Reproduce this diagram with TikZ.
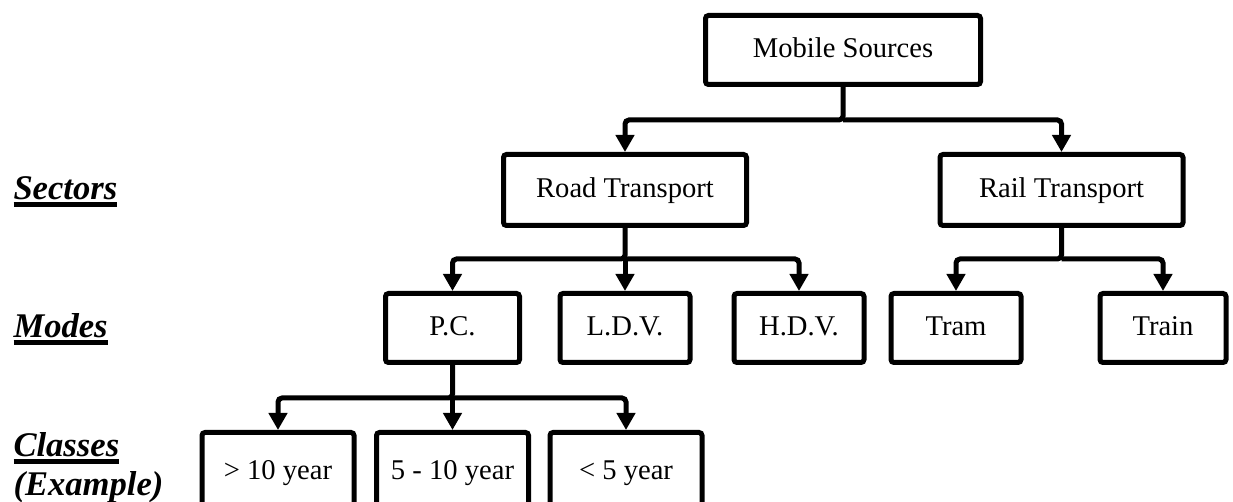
\documentclass[tikz,border=0pt]{standalone}
\usepackage{fontspec}
\setmainfont{Liberation Serif}
\usetikzlibrary{arrows.meta}
\newcommand{\ulbl}[1]{\setbox0\hbox{#1}\rlap{\usebox0}\rule[-3.5pt]{\wd0}{2.3pt}}
\begin{document}
\begin{tikzpicture}[x=0.5pt, y=-0.5pt, line width=2.5pt,
	box/.style = {draw, rectangle, rounded corners=1.5pt, inner sep=0pt, minimum height=34.5pt,
		font=\fontsize{14.3pt}{17pt}\selectfont, text height=0.74em, text depth=0pt},
	mode/.style = {box, minimum width=65pt},
	cls/.style = {box, minimum width=76pt, minimum height=40pt},
	lbl/.style = {anchor=base west, inner sep=0pt, font=\fontsize{17.3pt}{20pt}\selectfont\bfseries\itshape},
	conn/.style = {-{Triangle[width=9pt,length=8.5pt]}, rounded corners=2pt}]
	\useasboundingbox (0,0) rectangle (1233,502);
	
	\node[box, minimum width=137.5pt] (ms) at (843,50) {Mobile Sources};
	\node[box, minimum width=121.5pt, minimum height=35.5pt] (road) at (625,190) {Road Transport};
	\node[box, minimum width=121.5pt, minimum height=35.5pt] (rail) at (1061.5,190) {Rail Transport};
	
	\node[mode, minimum width=67pt] (pc) at (452.5,328) {P.C.};
	\node[mode] (ldv) at (625,328) {L.D.V.};
	\node[mode] (hdv) at (799,328) {H.D.V.};
	\node[mode] (tram) at (956,328) {Tram};
	\node[mode, minimum width=63pt] (train) at (1163,328) {Train};
	
	\node[cls] (c1) at (278,472.5) {> 10 year};
	\node[cls] (c2) at (452.5,472.5) {5 - 10 year};
	\node[cls] (c3) at (626,472.5) {< 5 year};
	
	\node[lbl] (sectors) at (11,200) {\ulbl{Sectors}};
	\node[lbl] (modes) at (11,338) {\ulbl{Modes}};
	\node[lbl] (classes) at (11,457) {\ulbl{Classes}};
	\node[lbl] (example) at (11,495) {(Example)};
	
	\coordinate (j1) at (843,120);
	\coordinate (j2) at (625,259);
	\coordinate (j3) at (1061.5,259);
	\coordinate (j4) at (452.5,398);
	
	\draw[conn] (ms.south) -- (j1) -| (road.north);
	\draw[conn] (j1) -| (rail.north);
	\draw[conn] (road.south) -- (j2) -| (pc.north);
	\draw[conn] (j2) -- (ldv.north);
	\draw[conn] (j2) -| (hdv.north);
	\draw[conn] (rail.south) -- (j3) -| (tram.north);
	\draw[conn] (j3) -| (train.north);
	\draw[conn] (pc.south) -- (j4) -| (c1.north);
	\draw[conn] (j4) -- (c2.north);
	\draw[conn] (j4) -| (c3.north);
	
\end{tikzpicture}
\end{document}
